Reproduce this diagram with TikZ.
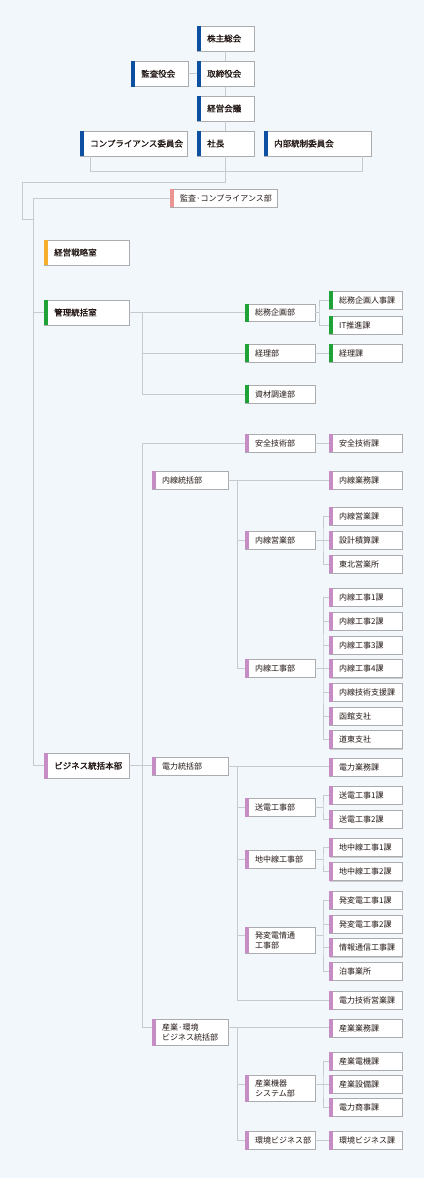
\documentclass[tikz,border=0pt]{standalone}
\usepackage{fontspec}
\setmainfont{Noto Sans CJK JP}
\newfontfamily\cjkb{Noto Sans CJK JP}[FakeBold=1.2]
\usetikzlibrary{shadows}
\definecolor{bg}{RGB}{241,247,251}
\definecolor{ln}{RGB}{198,203,208}
\definecolor{bd}{RGB}{170,172,175}
\definecolor{cblue}{RGB}{13,79,160}
\definecolor{cgreen}{RGB}{31,163,57}
\definecolor{corange}{RGB}{246,174,45}
\definecolor{csalmon}{RGB}{236,148,147}
\definecolor{cpurple}{RGB}{198,141,196}
\definecolor{tx}{RGB}{35,24,21}
\tikzset{
 boxshape/.style={draw=bd, fill=white, line width=0.8pt, inner sep=0pt, outer sep=0pt, anchor=north west,
   drop shadow={shadow xshift=0.6pt, shadow yshift=-0.9pt, fill=black!20, opacity=1}},
 toptext/.style={font=\cjkb\fontsize{8.5}{10}\selectfont, text=tx, anchor=west, inner sep=0pt, align=left},
 subtext/.style={font=\fontsize{8}{10}\selectfont, text=tx, anchor=west, inner sep=0pt, align=left},
 conn/.style={draw=ln, line width=1pt},
}
\newcommand\orgbox[8]{%
 \node[boxshape, minimum width=#4pt, minimum height=#5pt] (#1) at (#2,#3) {};
 \fill[#6] ([xshift=-0.4pt,yshift=0.4pt]#1.north west) rectangle ([xshift=4pt,yshift=-0.4pt]#1.south west);
 \node[#7] (#1-t) at ([xshift=10pt]#1.west) {#8};
}
\begin{document}
\begin{tikzpicture}[x=1pt,y=-1pt]
\useasboundingbox[fill=bg] (0,0) rectangle (424,1178);
% top level
\orgbox{kabu}{197}{26}{57}{25}{cblue}{toptext}{株主総会}
\orgbox{kansa}{131}{61}{57}{25.5}{cblue}{toptext}{監査役会}
\orgbox{tori}{197}{61}{57}{25.5}{cblue}{toptext}{取締役会}
\orgbox{keiei}{197}{96}{57}{25}{cblue}{toptext}{経営会議}
\orgbox{comp}{80}{131}{107}{25}{cblue}{toptext}{コンプライアンス委員会}
\orgbox{shacho}{197}{131}{57}{25}{cblue}{toptext}{社長}
\orgbox{naibu}{264}{131}{107}{25}{cblue}{toptext}{内部統制委員会}
\orgbox{kcomp}{170}{189}{107}{18}{csalmon}{subtext}{監査·コンプライアンス部}
\orgbox{senryaku}{44}{240}{85}{25}{corange}{toptext}{経営戦略室}
\orgbox{kanri}{44}{300}{85}{25}{cgreen}{toptext}{管理統括室}
\orgbox{biz}{44}{753}{85}{25.5}{cpurple}{toptext}{ビジネス統括本部}
% kanri
\orgbox{soumu}{245}{304}{70}{17.5}{cgreen}{subtext}{総務企画部}
\orgbox{keiri}{245}{344}{70}{18}{cgreen}{subtext}{経理部}
\orgbox{shizai}{245}{385}{70}{18}{cgreen}{subtext}{資材調達部}
\orgbox{jinji}{329}{291}{73}{18}{cgreen}{subtext}{総務企画人事課}
\orgbox{it}{329}{316}{73}{18}{cgreen}{subtext}{IT推進課}
\orgbox{keirika}{329}{344}{73}{18}{cgreen}{subtext}{経理課}
% business
\orgbox{anzenbu}{245}{434}{70}{18}{cpurple}{subtext}{安全技術部}
\orgbox{anzenka}{329}{434}{73}{18}{cpurple}{subtext}{安全技術課}
\orgbox{naisen}{152}{471}{76}{18}{cpurple}{subtext}{内線統括部}
\orgbox{naigyo}{329}{471.5}{73}{18}{cpurple}{subtext}{内線業務課}
\orgbox{naiei}{245}{531}{70}{18}{cpurple}{subtext}{内線営業部}
\orgbox{naieika}{329}{507}{73}{18}{cpurple}{subtext}{内線営業課}
\orgbox{sekkei}{329}{531}{73}{18}{cpurple}{subtext}{設計積算課}
\orgbox{tohoku}{329}{555}{73}{18}{cpurple}{subtext}{東北営業所}
\orgbox{naiko}{245}{659.5}{70}{18}{cpurple}{subtext}{内線工事部}
\orgbox{naikoA}{329}{588.5}{73}{18}{cpurple}{subtext}{内線工事1課}
\orgbox{naikoB}{329}{612.3}{73}{18}{cpurple}{subtext}{内線工事2課}
\orgbox{naikoC}{329}{636}{73}{18}{cpurple}{subtext}{内線工事3課}
\orgbox{naikoD}{329}{659.7}{73}{18}{cpurple}{subtext}{内線工事4課}
\orgbox{shien}{329}{683.3}{73}{18}{cpurple}{subtext}{内線技術支援課}
\orgbox{hakodate}{329}{707}{73}{18}{cpurple}{subtext}{函館支社}
\orgbox{doto}{329}{730.7}{73}{18}{cpurple}{subtext}{道東支社}
\orgbox{denryoku}{152}{757.5}{76}{17.5}{cpurple}{subtext}{電力統括部}
\orgbox{dengyo}{329}{758}{73}{18}{cpurple}{subtext}{電力業務課}
\orgbox{soden}{245}{798.3}{70}{18}{cpurple}{subtext}{送電工事部}
\orgbox{sodenA}{329}{786.3}{73}{18}{cpurple}{subtext}{送電工事1課}
\orgbox{sodenB}{329}{810.3}{73}{18}{cpurple}{subtext}{送電工事2課}
\orgbox{chichu}{245}{850.3}{70}{18}{cpurple}{subtext}{地中線工事部}
\orgbox{chichuA}{329}{838.7}{73}{18}{cpurple}{subtext}{地中線工事1課}
\orgbox{chichuB}{329}{862.7}{73}{18}{cpurple}{subtext}{地中線工事2課}
\orgbox{hatsu}{245}{927.3}{70}{25.7}{cpurple}{subtext}{発変電情通\\工事部}
\orgbox{hatsuA}{329}{891}{73}{18}{cpurple}{subtext}{発変電工事1課}
\orgbox{hatsuB}{329}{915}{73}{18}{cpurple}{subtext}{発変電工事2課}
\orgbox{joho}{329}{938.7}{73}{18}{cpurple}{subtext}{情報通信工事課}
\orgbox{tomari}{329}{962.3}{73}{18}{cpurple}{subtext}{泊事業所}
\orgbox{gijutsu}{329}{991.3}{73}{18}{cpurple}{subtext}{電力技術営業課}
\orgbox{sangyo}{152}{1019}{76}{26.3}{cpurple}{subtext}{産業·環境\\ビジネス統括部}
\orgbox{sangyogyo}{329}{1019}{73}{18}{cpurple}{subtext}{産業業務課}
\orgbox{kiki}{245}{1075.3}{70}{26}{cpurple}{subtext}{産業機器\\システム部}
\orgbox{kikiA}{329}{1052.3}{73}{18}{cpurple}{subtext}{産業電機課}
\orgbox{kikiB}{329}{1075.3}{73}{18}{cpurple}{subtext}{産業設備課}
\orgbox{kikiC}{329}{1098.3}{73}{18}{cpurple}{subtext}{電力商事課}
\orgbox{kankyo}{245}{1131.3}{70}{18}{cpurple}{subtext}{環境ビジネス部}
\orgbox{kankyoka}{329}{1131.3}{73}{18}{cpurple}{subtext}{環境ビジネス課}
% ---- connectors
\draw[conn] (kabu.south) -- (tori.north);
\draw[conn] (tori.south) -- (keiei.north);
\draw[conn] (keiei.south) -- (shacho.north);
\draw[conn] (kansa.east) -- (kansa.east -| tori.west);
\draw[conn] ([xshift=10pt]comp.south west) -- ++(0,15) -| ([xshift=-9pt]naibu.south east);
\draw[conn] (shacho.south) -- ++(0,26) -| ([xshift=-22pt,yshift=-21pt]kcomp.west -| biz.west) -- ++(11,0);
\draw[conn] (kcomp.west) -| ([xshift=-11pt]biz.west) -- (biz.west);
\draw[conn] (kanri.west) -- ++(-11,0);
\draw[conn] (kanri.east) -- (kanri.east -| soumu.west);
\coordinate (kt) at ([xshift=13pt]kanri.east);
\draw[conn] (kt) |- (keiri.west);
\draw[conn] (kt) |- (shizai.west);
\draw[conn] (jinji.west) -| ([xshift=4pt]soumu.east) |- (it.west);
\draw[conn] (soumu.east) -- ++(4,0);
\draw[conn] (keiri.east) -- (keirika.west);
% business trunk
\draw[conn] (anzenbu.west) -| ([xshift=-10pt,yshift=5pt]sangyo.west) -- ([yshift=5pt]sangyo.west);
\draw[conn] (biz.east) -- (biz.east -| denryoku.west);
\draw[conn] (anzenbu.east) -- (anzenka.west);
% naisen
\draw[conn] (naisen.east) -- (naisen.east -| naigyo.west);
\draw[conn] (naiko.west) -| ([xshift=9pt]naisen.east);
\draw[conn] (naiei.west) -- ++(-8,0);
\draw[conn] (naieika.west) -| ([xshift=8pt]naiei.east) |- (tohoku.west);
\draw[conn] (naiei.east) -- (sekkei.west);
\draw[conn] (naikoA.west) -| ([xshift=8pt]naiko.east) |- (doto.west);
\foreach \c in {naikoB,naikoC,shien,hakodate} \draw[conn] (\c.west) -- ++(-6,0);
\draw[conn] (naiko.east) -- (naiko.east -| naikoD.west);
% denryoku
\draw[conn] (denryoku.east) -- (denryoku.east -| dengyo.west);
\draw[conn] (gijutsu.west) -| ([xshift=9pt]denryoku.east);
\draw[conn] (soden.west) -- ++(-8,0);
\draw[conn] (chichu.west) -- ++(-8,0);
\draw[conn] ([yshift=4.3pt]hatsu.west) -- ++(-8,0);
\draw[conn] (sodenA.west) -| ([xshift=8pt]soden.east) |- (sodenB.west);
\draw[conn] (soden.east) -- ++(8,0);
\draw[conn] (chichuA.west) -| ([xshift=8pt]chichu.east) |- (chichuB.west);
\draw[conn] (chichu.east) -- ++(8,0);
\draw[conn] (hatsuA.west) -| ([xshift=8pt]hatsu.east) |- (tomari.west);
\foreach \c in {hatsuB,joho} \draw[conn] (\c.west) -- ++(-6,0);
\draw[conn] ([yshift=4.3pt]hatsu.east) -- ++(8,0);
% sangyo
\draw[conn] ([yshift=5pt]sangyo.east) -- ([yshift=5pt]sangyo.east -| sangyogyo.west);
\draw[conn] (kankyo.west) -| ([xshift=9pt,yshift=5pt]sangyo.east);
\draw[conn] ([yshift=4pt]kiki.west) -- ++(-8,0);
\draw[conn] (kikiA.west) -| ([xshift=8pt]kiki.east) |- (kikiC.west);
\draw[conn] ([yshift=4pt]kiki.east) -- (kikiB.west);
\draw[conn] (kankyo.east) -- (kankyoka.west);
\end{tikzpicture}
\end{document}
